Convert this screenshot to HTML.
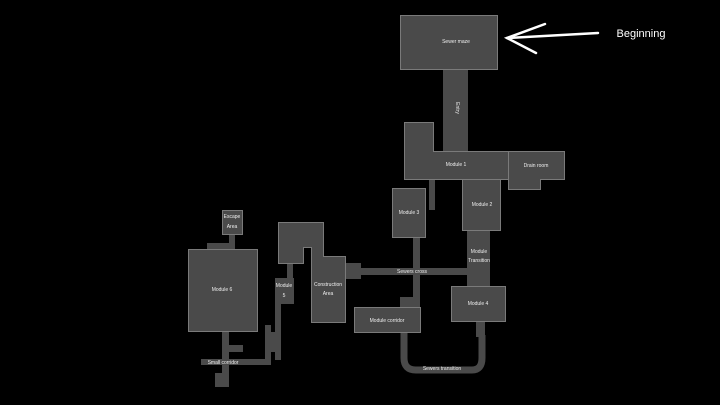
<!DOCTYPE html>
<html><head><style>
html,body{margin:0;padding:0;background:#000;width:720px;height:405px;overflow:hidden}
svg{display:block}
text{font-family:"Liberation Sans",sans-serif;fill:#eee;font-size:5px;text-anchor:middle}
.r{fill:#4a4a4a;stroke:#7a7a7a;stroke-width:1}
.c{fill:#4a4a4a}
</style></head><body>
<svg width="720" height="405" viewBox="0 0 720 405">
<rect width="720" height="405" fill="#000"/>
<rect class="c" x="443" y="70" width="25" height="82"/>
<rect class="c" x="429" y="179" width="6" height="31"/>
<rect class="c" x="467" y="230" width="23" height="56"/>
<rect class="c" x="361" y="268" width="106" height="7"/>
<rect class="c" x="345" y="263" width="16" height="16"/>
<rect class="c" x="413" y="237" width="7" height="60"/>
<rect class="c" x="400" y="297" width="20" height="10"/>
<rect class="c" x="476" y="321" width="9" height="16"/>
<path d="M404 332 V358 Q404 370 416 370 H472 Q482 370 482 358 V335" fill="none" stroke="#4a4a4a" stroke-width="7"/>
<rect class="c" x="287" y="263" width="6" height="16"/>
<rect class="c" x="275" y="303" width="6" height="57"/>
<rect class="c" x="265" y="325" width="6" height="40"/>
<rect class="c" x="270" y="332" width="8" height="20"/>
<rect class="c" x="201" y="359" width="69" height="6"/>
<rect class="c" x="222" y="331" width="7" height="56"/>
<rect class="c" x="229" y="345" width="14" height="7"/>
<rect class="c" x="215" y="373" width="14" height="14"/>
<rect class="c" x="207" y="243" width="28" height="6"/>
<rect class="c" x="229" y="234" width="6" height="12"/>
<rect class="r" x="400.5" y="15.5" width="97" height="54"/>
<path class="r" d="M404.5 122.5 H433.5 V151.5 H508.5 V179.5 H404.5 Z"/>
<path class="r" d="M508.5 151.5 H564.5 V179.5 H540.5 V189.5 H508.5 Z"/>
<rect class="r" x="392.5" y="188.5" width="33" height="49"/>
<rect class="r" x="462.5" y="179.5" width="38" height="51"/>
<rect class="r" x="451.5" y="286.5" width="54" height="35"/>
<rect class="r" x="354.5" y="307.5" width="66" height="25"/>
<path class="r" d="M278.5 222.5 H323.5 V256.5 H345.5 V322.5 H311.5 V247.5 H303.5 V263.5 H278.5 Z"/>
<rect class="c" x="275" y="278" width="19" height="26"/>
<rect class="r" x="188.5" y="249.5" width="69" height="82"/>
<rect class="r" x="222.5" y="210.5" width="20" height="24"/>
<text x="456" y="43">Sewer maze</text>
<text x="456" y="108" transform="rotate(90 456 108)">Entry</text>
<text x="456" y="166">Module 1</text>
<text x="536" y="167">Drain room</text>
<text x="409" y="214">Module 3</text>
<text x="482" y="206">Module 2</text>
<text x="479" y="253">Module</text>
<text x="479" y="262">Transition</text>
<text x="412" y="273">Sewers cross</text>
<text x="478" y="305">Module 4</text>
<text x="387" y="322">Module corridor</text>
<text x="442" y="370">Sewers transition</text>
<text x="328" y="286">Construction</text>
<text x="328" y="295">Area</text>
<text x="284" y="287">Module</text>
<text x="284" y="297">5</text>
<text x="222" y="291">Module 6</text>
<text x="232" y="218">Escape</text>
<text x="232" y="228">Area</text>
<text x="223" y="364">Small corridor</text>
<g stroke="#fff" stroke-width="2.5" stroke-linecap="round" fill="none">
<path d="M598 33 L507 38"/>
<path d="M545 24 L507 38 L536 53"/>
</g>
<text x="641" y="37" style="font-size:11px;text-anchor:middle;fill:#fff">Beginning</text>
</svg>
</body></html>
